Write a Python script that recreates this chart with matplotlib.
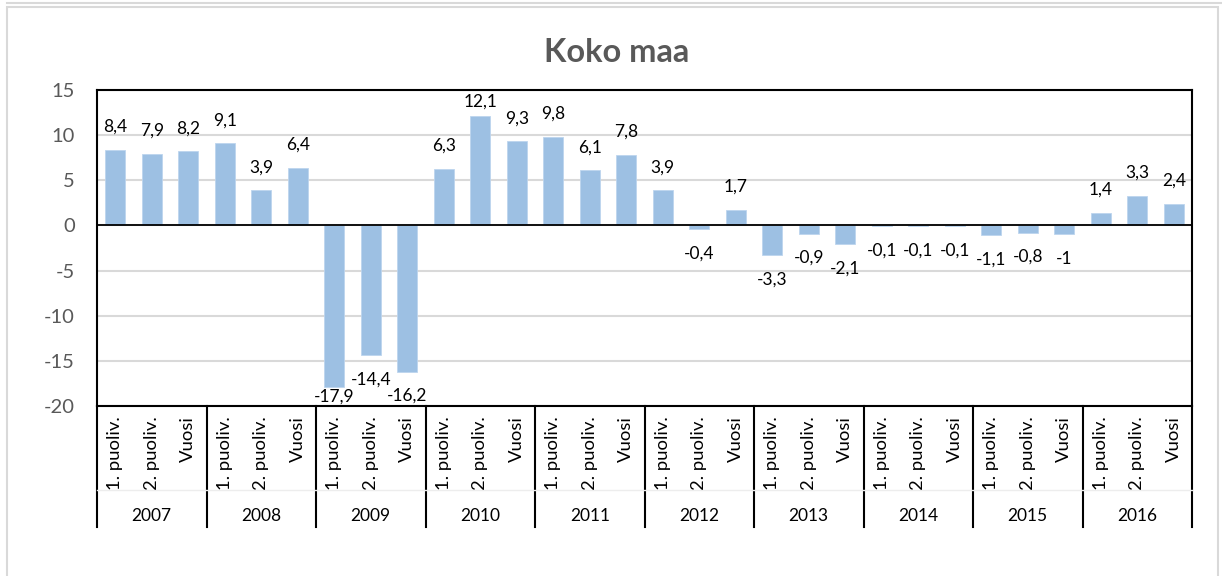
import numpy as np
import matplotlib.pyplot as plt
from matplotlib.patches import Rectangle
from matplotlib.lines import Line2D
from matplotlib.transforms import blended_transform_factory

plt.rcParams['font.family'] = ['Lato', 'DejaVu Sans']

years = ["2007", "2008", "2009", "2010", "2011", "2012", "2013", "2014", "2015", "2016"]
periods = ["1. puoliv.", "2. puoliv.", "Vuosi"]
values = [8.4, 7.9, 8.2,
          9.1, 3.9, 6.4,
          -17.9, -14.4, -16.2,
          6.3, 12.1, 9.3,
          9.8, 6.1, 7.8,
          3.9, -0.4, 1.7,
          -3.3, -0.9, -2.1,
          -0.1, -0.1, -0.1,
          -1.1, -0.8, -1,
          1.4, 3.3, 2.4]
yticks = [-20, -15, -10, -5, 0, 5, 10, 15]

W, H = 1222, 576
fig = plt.figure(figsize=(W / 100, H / 100), dpi=100)

# chart area borders
fig.patches.append(Rectangle((7 / W, -0.1), (1218 - 7) / W, (H - 7) / H + 0.1,
                             transform=fig.transFigure, fill=False,
                             edgecolor="#D9D9D9", linewidth=1.5))
fig.add_artist(Line2D([7 / W, 1], [1 - 2.5 / H, 1 - 2.5 / H], color="#D9D9D9", lw=1.5))

left, right, top, bottom = 97, 1192, 90, 406
ax = fig.add_axes([left / W, 1 - bottom / H, (right - left) / W, (bottom - top) / H])

n = len(values)
x = np.arange(n)
ax.bar(x, values, width=0.55, color="#9DC0E3", edgecolor="#BDD5EE", linewidth=0.6, zorder=3)
ax.set_xlim(-0.5, n - 0.5)
ax.set_ylim(-20, 15)
ax.set_yticks(yticks)
ax.set_yticklabels([str(t) for t in yticks], fontsize=14.5, color="#595959")
ax.tick_params(axis="y", length=0, pad=16)
ax.set_xticks([])
ax.grid(axis="y", color="#D9D9D9", linewidth=1.5, zorder=0)
ax.axhline(0, color="black", linewidth=1.3, zorder=4)
for s in ax.spines.values():
    s.set_color("black")
    s.set_linewidth(1.5)

# data labels, kept inside the plot area like Excel does
for xi, v in zip(x, values):
    lab = ("%g" % v).replace(".", ",")
    if v >= 0:
        yl = min(v + 2.55, 13.7)
    else:
        yl = max(v - 2.7, -18.95)
    ax.text(xi, yl, lab, ha="center", va="center", fontsize=12.5)

# category axis labels
tr = blended_transform_factory(ax.transData, fig.transFigure)
for i in range(n):
    ax.text(i, 1 - 416 / H, periods[i % 3], rotation=90, ha="center", va="top",
            fontsize=13.3, transform=tr)
for g, yr in enumerate(years):
    ax.text(g * 3 + 1, 1 - 516 / H, yr, ha="center", va="center", fontsize=12.5, transform=tr)
for b in np.arange(-0.5, n, 3):
    fig.add_artist(Line2D([b, b], [1 - bottom / H, 1 - 527 / H], color="black",
                          lw=1.5, transform=tr))
fig.add_artist(Line2D([-0.5, n - 0.5], [1 - 490 / H, 1 - 490 / H], color="#EDEDED",
                      lw=1, transform=tr))

fig.text(617 / W, 1 - 52 / H, "Koko maa", ha="center", va="center",
         fontsize=23.5, fontweight="bold", color="#595959")

fig.savefig("out.png", dpi=100)
